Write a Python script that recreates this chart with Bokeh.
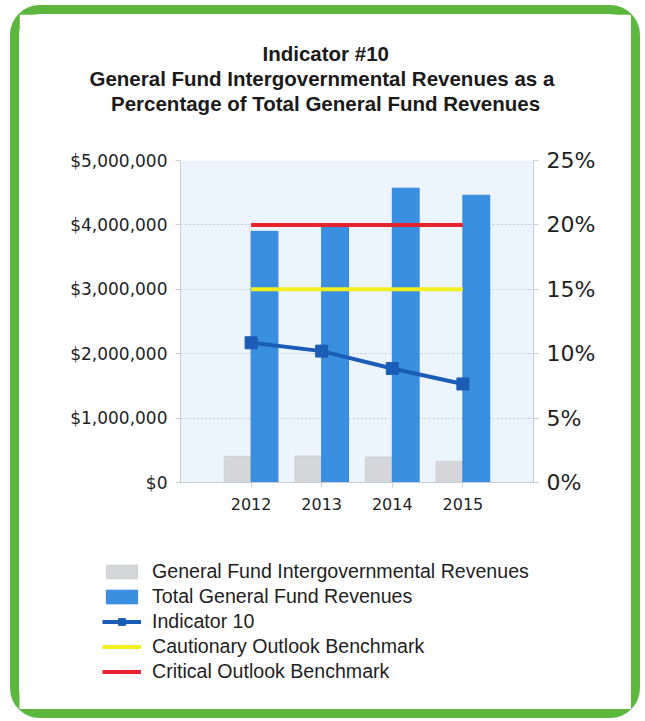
from bokeh.plotting import figure
from bokeh.layouts import column, row
from bokeh.models import (Range1d, LinearAxis, FixedTicker, NumeralTickFormatter,
                          PrintfTickFormatter, Legend, LegendItem, Title, ColumnDataSource)
from bokeh.embed import file_html
from bokeh.resources import INLINE
import numpy as np

# ---- data ----
years = ["2012", "2013", "2014", "2015"]
intergov_rev = [405000, 410000, 395000, 330000]
total_rev = [3900000, 3980000, 4570000, 4460000]
indicator_pct = [10.85, 10.2, 8.85, 7.65]
cautionary_pct = [15, 15, 15, 15]
critical_pct = [20, 20, 20, 20]
left_ticks = [0, 1000000, 2000000, 3000000, 4000000, 5000000]
right_ticks = [0, 5, 10, 15, 20, 25]
title_lines = ["Indicator #10",
               "General Fund Intergovernmental Revenues as a",
               "Percentage of Total General Fund Revenues"]
legend_labels = ["General Fund Intergovernmental Revenues",
                 "Total General Fund Revenues",
                 "Indicator 10",
                 "Cautionary Outlook Benchmark",
                 "Critical Outlook Benchmark"]

# ---- styles ----
GREY, BLUE, IND, YEL, RED = "#d4d6d9", "#3b8fe0", "#1b5cb6", "#f3ee1c", "#e8222c"
xs = np.arange(1, len(years) + 1)
bar_w = 0.38
W = 612

src = ColumnDataSource(dict(x=xs, x_grey=xs - bar_w / 2, x_blue=xs + bar_w / 2,
                            intergov=intergov_rev, total=total_rev,
                            ind=indicator_pct, caut=cautionary_pct, crit=critical_pct))


def add_series(fig, pct_range):
    kw = dict(y_range_name=pct_range) if pct_range else {}
    r = [fig.vbar(x="x_grey", top="intergov", width=bar_w, source=src,
                  fill_color=GREY, line_color="#cdd0d3"),
         fig.vbar(x="x_blue", top="total", width=bar_w, source=src,
                  fill_color=BLUE, line_color="#3385da"),
         fig.line(x="x", y="ind", source=src, line_color=IND, line_width=4, **kw),
         fig.scatter(x="x", y="ind", source=src, marker="square", size=12,
                     fill_color=IND, line_color=IND, **kw),
         fig.line(x="x", y="caut", source=src, line_color=YEL, line_width=4, **kw),
         fig.line(x="x", y="crit", source=src, line_color=RED, line_width=4, **kw)]
    return r


p = figure(width=W, height=524, output_backend="svg", toolbar_location=None,
           x_range=Range1d(0, len(years) + 1), y_range=Range1d(0, 5000000),
           min_border_left=161, min_border_right=98, min_border_top=146,
           min_border_bottom=56)
p.background_fill_color = "#ecf5fd"
p.border_fill_color = "white"
p.outline_line_color = None
p.extra_y_ranges = {"pct": Range1d(0, 25)}
add_series(p, "pct")

# axes
axis_col = "#c5ced8"
p.yaxis.ticker = FixedTicker(ticks=left_ticks)
p.yaxis.formatter = NumeralTickFormatter(format="$0,0")
p.xaxis.ticker = FixedTicker(ticks=list(xs))
p.xaxis.major_label_overrides = {int(x): y for x, y in zip(xs, years)}
for ax in (p.xaxis[0], p.yaxis[0]):
    ax.axis_line_color = axis_col
    ax.major_tick_line_color = axis_col
    ax.major_tick_out = 5
    ax.major_tick_in = 0
    ax.minor_tick_line_color = None
    ax.major_label_text_color = "#1e1e1e"
    ax.major_label_text_font = "DejaVu Sans"
p.yaxis.major_label_text_font_size = "17px"
p.yaxis.major_label_standoff = 8
p.xaxis.major_label_text_font_size = "16px"
p.xaxis.major_label_standoff = 10

ra = LinearAxis(y_range_name="pct", ticker=FixedTicker(ticks=right_ticks),
                formatter=PrintfTickFormatter(format="%d%%"))
ra.axis_line_color = axis_col
ra.major_tick_line_color = axis_col
ra.major_tick_out = 5
ra.major_tick_in = 0
ra.minor_tick_line_color = None
ra.major_label_text_font = "DejaVu Sans"
ra.major_label_text_font_size = "22px"
ra.major_label_text_color = "#1e1e1e"
ra.major_label_standoff = 8
p.add_layout(ra, "right")

p.xgrid.grid_line_color = None
p.ygrid.grid_line_color = "#c3c8ce"
p.ygrid.grid_line_dash = "2 2"
p.ygrid.ticker = FixedTicker(ticks=left_ticks)

# title lines (innermost first), a spacer between title and plot
p.add_layout(Title(text=" ", text_font_size="1px", standoff=43), "above")
offsets = [82, -91, -69.5]
for t, off in reversed(list(zip(title_lines, offsets))):
    p.add_layout(Title(text=t, align="left", text_font="Liberation Sans",
                       text_font_size="20.5px", text_font_style="bold",
                       text_color="#1a1a1a", offset=off, standoff=0), "above")

# ---- legend panel (same series, drawn outside its visible range) ----
q = figure(width=W, height=171, output_backend="svg", toolbar_location=None,
           x_axis_type=None, y_axis_type=None, min_border=0,
           x_range=Range1d(-20, -10), y_range=Range1d(-20, -10))
q.outline_line_color = None
q.grid.grid_line_color = None
q.background_fill_color = "white"
q.border_fill_color = "white"
lg = add_series(q, None)
legend = Legend(items=[
    LegendItem(label=legend_labels[0], renderers=[lg[0]]),
    LegendItem(label=legend_labels[1], renderers=[lg[1]]),
    LegendItem(label=legend_labels[2], renderers=[lg[2], lg[3]]),
    LegendItem(label=legend_labels[3], renderers=[lg[4]]),
    LegendItem(label=legend_labels[4], renderers=[lg[5]]),
], location=(83, 26), label_text_font="Liberation Sans", label_text_font_size="19.6px",
    label_text_color="#1e1e1e", glyph_width=39, glyph_height=17, label_height=17,
    spacing=2, padding=0, margin=0, border_line_color=None,
    background_fill_alpha=0, label_standoff=11)
q.add_layout(legend, "center")

layout = column(p, row(q), styles={"border": "9px solid #5cb83c", "border-radius": "30px",
                                   "background-color": "white", "margin-left": "10px",
                                   "margin-top": "5px"})

open("out.html", "w").write(file_html(layout, INLINE))
